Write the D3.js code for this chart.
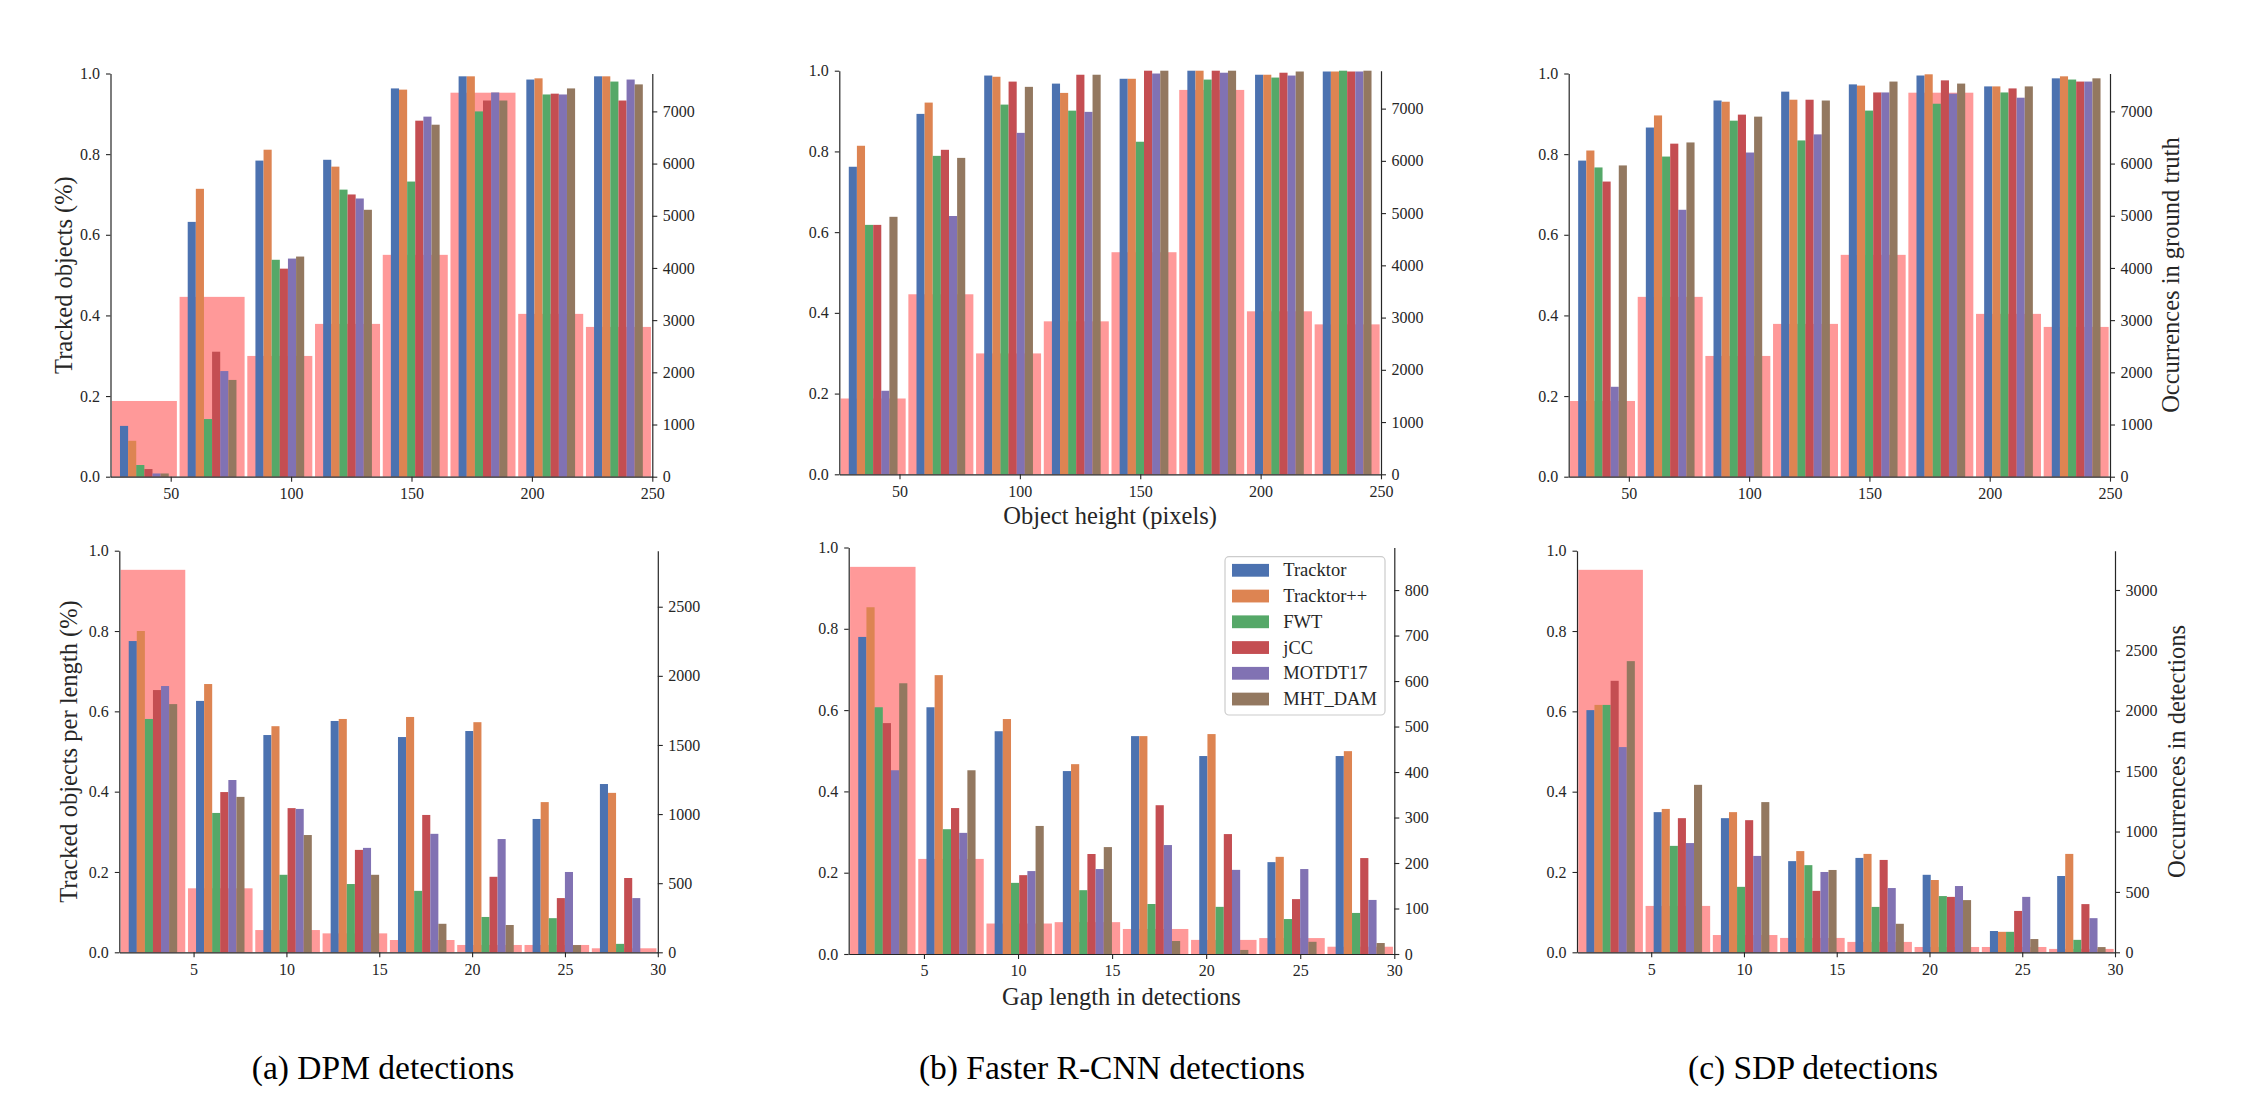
<!DOCTYPE html>
<html><head><meta charset="utf-8">
<script src="https://cdn.jsdelivr.net/npm/d3@7"></script>
<style>body{margin:0;background:#fff}</style>
</head><body>
<svg id="chart" width="2252" height="1106" xmlns="http://www.w3.org/2000/svg"></svg>
<script>
// ---------------- DATA ----------------
const methods = ["Tracktor", "Tracktor++", "FWT", "jCC", "MOTDT17", "MHT_DAM"];
const methodColors = ["#4c72b0", "#dd8452", "#55a868", "#c44e52", "#8172b3", "#937860"];
const gtColor = "#ff9999";

// histogram bins (centres) and bin widths
const heightBinCenters = [39.0625, 67.1875, 95.3125, 123.4375, 151.5625, 179.6875, 207.8125, 235.9375];
const heightBinWidth = 28.125;
const heightRange = [25, 250];
const gapBinCenters = [2.8125, 6.4375, 10.0625, 13.6875, 17.3125, 20.9375, 24.5625, 28.1875];
const gapBinWidth = 3.625;
const gapRange = [1, 30];

// tick labels
const heightTicks = [50, 100, 150, 200, 250];
const gapTicks = [5, 10, 15, 20, 25, 30];
const ratioTicks = [0, 0.2, 0.4, 0.6, 0.8, 1.0];
const gtHeightTicks = [0, 1000, 2000, 3000, 4000, 5000, 6000, 7000];
const dpmGapTicks = [0, 500, 1000, 1500, 2000, 2500];
const frcnnGapTicks = [0, 100, 200, 300, 400, 500, 600, 700, 800];
const sdpGapTicks = [0, 500, 1000, 1500, 2000, 2500, 3000];

// occurrences (pink bars)
const gtHeightCounts = [1451, 3446, 2314, 2928, 4251, 7358, 3120, 2870];
const dpmGapCounts = [2767, 463, 161, 137, 89, 53, 53, 29];
const frcnnGapCounts = [851, 209, 67, 70, 55, 31, 35, 16];
const sdpGapCounts = [3167, 384, 143, 119, 86, 44, 44, 28];

// tracked ratio per method (rows: methods, columns: bins)
const dpmHeight = [
  [0.126, 0.632, 0.784, 0.786, 0.963, 0.993, 0.985, 0.993],
  [0.089, 0.714, 0.811, 0.769, 0.960, 0.993, 0.988, 0.993],
  [0.029, 0.143, 0.538, 0.712, 0.732, 0.906, 0.948, 0.980],
  [0.019, 0.310, 0.516, 0.700, 0.883, 0.933, 0.950, 0.933],
  [0.008, 0.262, 0.541, 0.690, 0.893, 0.953, 0.948, 0.985],
  [0.008, 0.240, 0.546, 0.662, 0.873, 0.933, 0.963, 0.973]
];
const frcnnHeight = [
  [0.762, 0.893, 0.988, 0.968, 0.980, 1.000, 0.990, 0.998],
  [0.814, 0.921, 0.985, 0.945, 0.980, 1.000, 0.990, 0.998],
  [0.618, 0.789, 0.916, 0.901, 0.824, 0.978, 0.983, 1.000],
  [0.618, 0.804, 0.973, 0.990, 1.000, 1.000, 0.995, 0.998],
  [0.207, 0.640, 0.846, 0.898, 0.993, 0.995, 0.988, 0.998],
  [0.638, 0.784, 0.960, 0.990, 1.000, 1.000, 0.998, 1.000]
];
const sdpHeight = [
  [0.784, 0.866, 0.933, 0.955, 0.973, 0.995, 0.968, 0.988],
  [0.809, 0.896, 0.930, 0.935, 0.970, 0.998, 0.968, 0.993],
  [0.767, 0.794, 0.883, 0.834, 0.908, 0.925, 0.953, 0.985],
  [0.732, 0.826, 0.898, 0.935, 0.953, 0.983, 0.963, 0.980],
  [0.223, 0.662, 0.804, 0.849, 0.953, 0.950, 0.940, 0.980],
  [0.772, 0.829, 0.893, 0.933, 0.980, 0.975, 0.968, 0.988]
];
const dpmGap = [
  [0.775, 0.626, 0.541, 0.576, 0.536, 0.551, 0.332, 0.419],
  [0.800, 0.668, 0.563, 0.581, 0.586, 0.573, 0.374, 0.397],
  [0.581, 0.347, 0.193, 0.170, 0.153, 0.088, 0.085, 0.021],
  [0.653, 0.399, 0.359, 0.255, 0.342, 0.188, 0.135, 0.185],
  [0.663, 0.429, 0.357, 0.260, 0.295, 0.282, 0.200, 0.135],
  [0.618, 0.387, 0.292, 0.193, 0.071, 0.068, 0.018, 0.000]
];
const frcnnGap = [
  [0.780, 0.607, 0.548, 0.450, 0.536, 0.487, 0.226, 0.487],
  [0.853, 0.686, 0.578, 0.467, 0.536, 0.541, 0.239, 0.499],
  [0.607, 0.307, 0.175, 0.157, 0.123, 0.116, 0.086, 0.101],
  [0.568, 0.359, 0.194, 0.246, 0.366, 0.295, 0.135, 0.236],
  [0.452, 0.298, 0.204, 0.209, 0.268, 0.207, 0.209, 0.133],
  [0.666, 0.452, 0.315, 0.263, 0.032, 0.010, 0.030, 0.027]
];
const sdpGap = [
  [0.603, 0.349, 0.334, 0.227, 0.235, 0.193, 0.053, 0.190],
  [0.616, 0.357, 0.349, 0.252, 0.245, 0.180, 0.051, 0.245],
  [0.616, 0.265, 0.163, 0.217, 0.113, 0.140, 0.051, 0.031],
  [0.676, 0.334, 0.329, 0.153, 0.230, 0.138, 0.103, 0.120],
  [0.511, 0.272, 0.240, 0.200, 0.160, 0.165, 0.138, 0.085],
  [0.725, 0.417, 0.374, 0.205, 0.071, 0.130, 0.033, 0.013]
];

const captions = ["(a) DPM detections", "(b) Faster R-CNN detections", "(c) SDP detections"];

// ---------------- DRAWING ----------------
const FONT = "'Liberation Serif', 'Times New Roman', serif";
const INK = "#262626";
const svg = d3.select("#chart");
svg.append("rect").attr("width", 2252).attr("height", 1106).attr("fill", "#fff");

const panels = [
  {box: [110.5, 652.3, 73.5, 476.7], centers: heightBinCenters, bw: heightBinWidth, xr: heightRange, xt: heightTicks,
   counts: gtHeightCounts, rt: gtHeightTicks, values: dpmHeight, ylabel: "Tracked objects (%)", ylx: 63},
  {box: [839.3, 1381, 70.7, 474.3], centers: heightBinCenters, bw: heightBinWidth, xr: heightRange, xt: heightTicks,
   counts: gtHeightCounts, rt: gtHeightTicks, values: frcnnHeight, xlabel: "Object height (pixels)", xly: 515},
  {box: [1568.7, 2110, 73.5, 476.7], centers: heightBinCenters, bw: heightBinWidth, xr: heightRange, xt: heightTicks,
   counts: gtHeightCounts, rt: gtHeightTicks, values: sdpHeight, y2label: "Occurrences in ground truth", y2lx: 2170},
  {box: [119.3, 657.8, 550.7, 952.3], centers: gapBinCenters, bw: gapBinWidth, xr: gapRange, xt: gapTicks,
   counts: dpmGapCounts, rt: dpmGapTicks, values: dpmGap, ylabel: "Tracked objects per length (%)", ylx: 68},
  {box: [848.7, 1394.3, 547.5, 954], centers: gapBinCenters, bw: gapBinWidth, xr: gapRange, xt: gapTicks,
   counts: frcnnGapCounts, rt: frcnnGapTicks, values: frcnnGap, xlabel: "Gap length in detections", xly: 996.7, legend: true},
  {box: [1577, 2115, 550.7, 952.3], centers: gapBinCenters, bw: gapBinWidth, xr: gapRange, xt: gapTicks,
   counts: sdpGapCounts, rt: sdpGapTicks, values: sdpGap, y2label: "Occurrences in detections", y2lx: 2176}
];

function styleAxis(sel, size) {
  sel.selectAll("path.domain").attr("stroke", INK).attr("stroke-width", 1.2);
  sel.selectAll(".tick line").attr("stroke", INK).attr("stroke-width", 1.1);
  sel.selectAll(".tick text").attr("fill", INK).style("font-family", FONT).style("font-size", size + "px");
}

panels.forEach(p => {
  const [L, R, T, B] = p.box;
  const x = d3.scaleLinear().domain(p.xr).range([L, R]);
  const y = d3.scaleLinear().domain([0, 1]).range([B, T]);
  const y2 = d3.scaleLinear().domain([0, d3.max(p.counts) * 1.05]).range([B, T]);
  const g = svg.append("g");

  // ground-truth / detection occurrences (pink histogram)
  const hw = p.bw * 0.48;
  g.append("g").selectAll("rect").data(p.counts).join("rect")
    .attr("x", (d, i) => x(p.centers[i] - hw))
    .attr("width", (d, i) => x(p.centers[i] + hw) - x(p.centers[i] - hw))
    .attr("y", d => y2(d))
    .attr("height", d => y2(0) - y2(d))
    .attr("fill", gtColor);

  // method bars
  const w = p.bw * 0.12;
  p.values.forEach((series, m) => {
    g.append("g").selectAll("rect").data(series).join("rect")
      .attr("x", (d, i) => x(p.centers[i] + (m - 3) * w))
      .attr("width", (d, i) => x(p.centers[i] + (m - 2) * w) - x(p.centers[i] + (m - 3) * w))
      .attr("y", d => y(d))
      .attr("height", d => y(0) - y(d))
      .attr("fill", methodColors[m]);
  });

  // axes
  const ax = g.append("g").attr("transform", `translate(0,${B})`)
    .call(d3.axisBottom(x).tickValues(p.xt).tickSize(5).tickSizeOuter(0).tickPadding(6).tickFormat(d3.format("d")));
  styleAxis(ax, 16);
  const al = g.append("g").attr("transform", `translate(${L},0)`)
    .call(d3.axisLeft(y).tickValues(ratioTicks).tickSize(4.5).tickSizeOuter(0).tickPadding(6).tickFormat(d3.format(".1f")));
  styleAxis(al, 16);
  const ar = g.append("g").attr("transform", `translate(${R},0)`)
    .call(d3.axisRight(y2).tickValues(p.rt).tickSize(5).tickSizeOuter(0).tickPadding(5.5).tickFormat(d3.format("d")));
  styleAxis(ar, 16);

  const labelFont = 24.5;
  if (p.ylabel) {
    g.append("text").attr("transform", `translate(${p.ylx},${(T + B) / 2}) rotate(-90)`)
      .attr("text-anchor", "middle").attr("dominant-baseline", "central")
      .style("font-family", FONT).style("font-size", labelFont + "px").attr("fill", INK).text(p.ylabel);
  }
  if (p.y2label) {
    g.append("text").attr("transform", `translate(${p.y2lx},${(T + B) / 2}) rotate(-90)`)
      .attr("text-anchor", "middle").attr("dominant-baseline", "central")
      .style("font-family", FONT).style("font-size", labelFont + "px").attr("fill", INK).text(p.y2label);
  }
  if (p.xlabel) {
    g.append("text").attr("x", (L + R) / 2).attr("y", p.xly)
      .attr("text-anchor", "middle").attr("dominant-baseline", "central")
      .style("font-family", FONT).style("font-size", labelFont + "px").attr("fill", INK).text(p.xlabel);
  }

  if (p.legend) {
    const lg = g.append("g");
    const bx = R - 9.3, by = T + 9.2;
    lg.append("rect").attr("x", 1225).attr("y", by).attr("width", bx - 1225).attr("height", 715 - by)
      .attr("rx", 4).attr("fill", "#fff").attr("fill-opacity", 0.8).attr("stroke", "#cccccc").attr("stroke-width", 1.2);
    methods.forEach((name, i) => {
      const cy = 570.3 + i * 25.75;
      lg.append("rect").attr("x", 1232).attr("y", cy - 6.4).attr("width", 37).attr("height", 12.8).attr("fill", methodColors[i]);
      lg.append("text").attr("x", 1283.3).attr("y", cy).attr("dominant-baseline", "central")
        .style("font-family", FONT).style("font-size", "18.5px").attr("fill", INK).text(name);
    });
  }
});

// captions
const capX = [383, 1112, 1813];
captions.forEach((c, i) => {
  svg.append("text").attr("x", capX[i]).attr("y", 1079.3).attr("text-anchor", "middle")
    .style("font-family", FONT).style("font-size", "33.5px").attr("fill", "#000").text(c);
});
</script>
</body></html>
